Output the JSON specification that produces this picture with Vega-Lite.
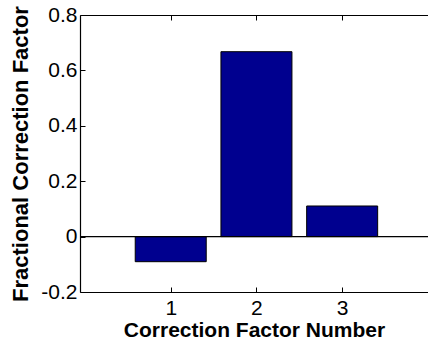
{
  "$schema": "https://vega.github.io/schema/vega-lite/v6.json",
  "autosize": "none",
  "width": 348,
  "height": 277,
  "padding": {"left": 80, "top": 15, "right": 0, "bottom": 53},
  "background": "white",
  "config": {
    "view": {"stroke": null},
    "font": "Liberation Sans",
    "axis": {
      "grid": false,
      "domainColor": "black",
      "domainWidth": 1.2,
      "tickColor": "black",
      "labelColor": "black",
      "titleColor": "black",
      "labelFont": "Liberation Sans",
      "titleFont": "Liberation Sans",
      "labelFontSize": 21,
      "titleFontSize": 21,
      "titleFontWeight": "bold"
    }
  },
  "data": {
    "values": [
      {"n": 1, "v": -0.0906},
      {"n": 2, "v": 0.6675},
      {"n": 3, "v": 0.1105}
    ]
  },
  "layer": [
    {
      "mark": {"type": "bar", "size": 71, "fill": "#00008F", "stroke": "black", "strokeWidth": 1},
      "encoding": {
        "x": {
          "field": "n", "type": "quantitative",
          "scale": {"domain": [0, 3.943], "nice": false, "zero": false},
          "axis": {"orient": "bottom", "values": [1, 2, 3], "tickSize": -5, "labelPadding": 10, "title": "Correction Factor Number", "titlePadding": 1, "labelFlush": false}
        },
        "y": {
          "field": "v", "type": "quantitative",
          "scale": {"domain": [-0.2, 0.8], "nice": false, "zero": false},
          "axis": {"orient": "left", "values": [-0.2, 0, 0.2, 0.4, 0.6, 0.8], "tickSize": -5, "labelPadding": 8, "labelExpr": "toString(datum.value)", "title": "Fractional Correction Factor", "titlePadding": 8, "titleFontSize": 22, "labelFlush": false}
        }
      }
    },
    {
      "mark": {"type": "rule", "color": "black", "strokeWidth": 1},
      "encoding": {"y": {"datum": 0, "type": "quantitative"}}
    },
    {
      "mark": {"type": "point", "opacity": 0},
      "encoding": {
        "x": {
          "field": "n", "type": "quantitative",
          "axis": {"orient": "top", "values": [1, 2, 3], "tickSize": -5, "labels": false, "title": null}
        },
        "y": {"field": "v", "type": "quantitative"}
      }
    }
  ],
  "resolve": {"axis": {"x": "independent"}}
}
